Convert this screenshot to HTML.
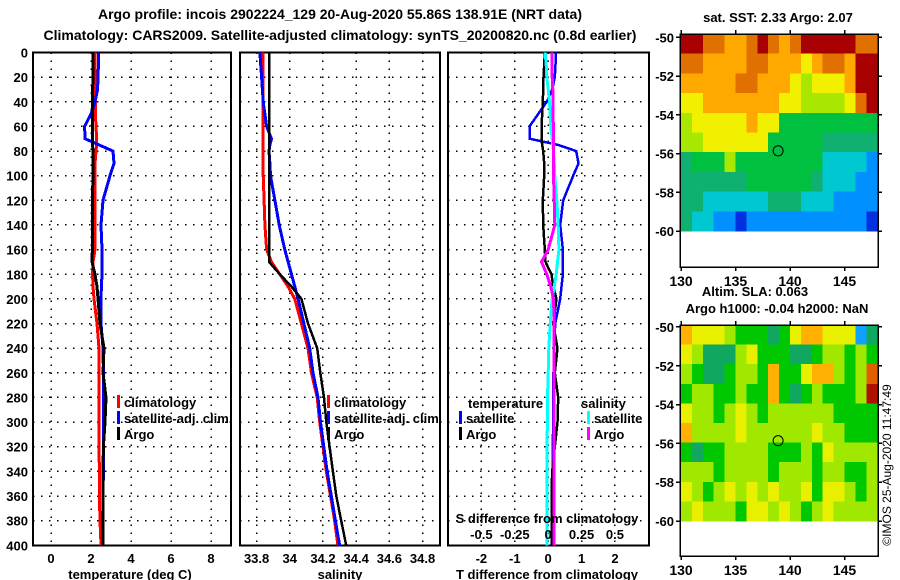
<!DOCTYPE html>
<html><head><meta charset="utf-8">
<style>
html,body{margin:0;padding:0;background:#fff;}
svg{display:block;}
text{font-family:"Liberation Sans",sans-serif;font-weight:bold;font-size:13px;fill:#000;}
text.norm{font-weight:normal;font-size:12px;}
</style></head>
<body>
<svg id="chart" width="900" height="580" viewBox="0 0 900 580" xmlns="http://www.w3.org/2000/svg" shape-rendering="crispEdges">
<text x="340" y="19" text-anchor="middle" style="font-size:14px">Argo profile: incois 2902224_129 20-Aug-2020 55.86S 138.91E (NRT data)</text>
<text x="340" y="40" text-anchor="middle" style="font-size:14px">Climatology: CARS2009. Satellite-adjusted climatology: synTS_20200820.nc (0.8d earlier)</text>
<text x="778" y="22" text-anchor="middle">sat. SST: 2.33 Argo: 2.07</text>
<text x="755" y="296" text-anchor="middle">Altim. SLA: 0.063</text>
<text x="777" y="313" text-anchor="middle">Argo h1000: -0.04 h2000: NaN</text>
<text class="norm" x="0" y="0" transform="translate(891,465) rotate(-90)" text-anchor="middle">©IMOS 25-Aug-2020 11:47:49</text>
<g id="g"></g>
</svg>
<script>
// ---- profile data ----
const depths = [0,10,20,30,40,50,60,70,75,80,90,100,120,140,160,170,180,190,200,220,240,260,280,300,320,340,360,380,400];
const climT = [2.2,2.2,2.2,2.22,2.22,2.22,2.25,2.28,2.28,2.25,2.2,2.2,2.2,2.2,2.2,2.1,2.08,2.1,2.15,2.3,2.4,2.4,2.4,2.4,2.4,2.42,2.42,2.45,2.5];
const satT  = [2.37,2.37,2.35,2.33,2.2,2.0,1.68,1.7,2.4,3.1,3.15,2.95,2.6,2.5,2.55,2.55,2.55,2.52,2.5,2.5,2.6,2.62,2.63,2.63,2.63,2.62,2.6,2.6,2.6];
const argoT = [2.1,2.1,2.1,2.08,2.08,2.07,2.07,2.07,2.08,2.1,2.1,2.1,2.07,2.07,2.07,2.05,2.2,2.3,2.35,2.45,2.65,2.6,2.75,2.7,2.62,2.6,2.6,2.6,2.6];
const climS = [33.84,33.84,33.84,33.84,33.84,33.84,33.84,33.84,33.84,33.84,33.84,33.84,33.845,33.85,33.86,33.89,33.94,33.99,34.03,34.07,34.11,34.13,34.165,34.18,34.2,34.22,34.245,34.27,34.29];
const satS  = [33.82,33.825,33.83,33.835,33.84,33.85,33.86,33.89,33.88,33.875,33.88,33.884,33.91,33.936,33.97,33.99,34.01,34.03,34.05,34.085,34.12,34.14,34.17,34.185,34.205,34.225,34.25,34.275,34.3];
const argoS = [33.875,33.875,33.875,33.875,33.875,33.875,33.875,33.875,33.875,33.875,33.875,33.875,33.875,33.875,33.875,33.875,33.94,34.01,34.07,34.11,34.165,34.184,34.206,34.22,34.24,34.26,34.28,34.31,34.34];
const tDiffSat  = [0.23,0.22,0.2,0.12,-0.04,-0.3,-0.56,-0.56,0.3,0.84,0.91,0.75,0.45,0.36,0.44,0.44,0.44,0.4,0.36,0.21,0.18,0.16,0.15,0.15,0.14,0.14,0.13,0.13,0.12];
const tDiffArgo = [-0.1,-0.12,-0.14,-0.15,-0.16,-0.18,-0.2,-0.2,-0.18,-0.15,-0.12,-0.12,-0.16,-0.15,-0.1,-0.08,0.1,0.15,0.25,0.15,0.28,0.2,0.3,0.28,0.2,0.12,0.1,0.1,0.1];
const sDiffSat  = [-0.022,-0.015,-0.01,0,0.01,0.015,0.02,0.03,0.035,0.04,0.045,0.05,0.065,0.075,0.08,0.07,0.06,0.045,0.03,0.015,0.005,0,-0.005,-0.005,-0.01,-0.01,-0.01,-0.01,-0.01];
const sDiffArgo = [0.03,0.03,0.03,0.035,0.035,0.035,0.04,0.04,0.04,0.04,0.04,0.04,0.045,0.05,0.0,-0.05,-0.01,0.02,0.04,0.045,0.045,0.045,0.045,0.045,0.045,0.045,0.045,0.045,0.045];
const depthTicks = [0,20,40,60,80,100,120,140,160,180,200,220,240,260,280,300,320,340,360,380,400];
const tempTicks = [0,2,4,6,8];
const salTicks = [33.8,34,34.2,34.4,34.6,34.8];
const salTickLabels = ["33.8","34","34.2","34.4","34.6","34.8"];
const tdTicks = [-2,-1,0,1,2];
const sdTicks = [-0.5,-0.25,0,0.25,0.5];
const sdTickLabels = ["-0.5","-0.25","0","0.25","0.5"];
// ---- map data (value classes 0..10) ----
const sstGrid = [
[10,10,9,9,8,8,9,10,9,8,9,10,10,10,10,10,9,9],
[9,9,8,8,8,8,9,9,8,8,8,7,8,9,9,8,10,10],
[8,8,8,8,8,9,9,8,8,8,7,6,7,7,7,8,10,10],
[7,7,8,8,8,8,8,8,8,7,7,6,6,6,6,7,9,10],
[6,7,7,7,7,7,8,7,7,5,5,5,5,5,5,5,5,5],
[6,6,7,7,7,7,7,7,5,5,5,5,5,4,4,4,4,4],
[4,5,5,5,6,5,5,5,5,5,5,5,5,3,3,3,3,2],
[4,4,4,4,4,4,5,5,5,5,5,5,4,3,3,3,2,2],
[4,4,3,3,3,3,3,3,4,4,4,3,3,3,2,2,2,2],
[4,3,3,2,2,1,2,2,2,2,2,2,2,2,2,2,2,1]];
const slaGrid = [
[8,7,7,7,6,5,5,5,4,5,7,8,8,7,7,7,2,4],
[7,6,4,4,4,6,7,5,5,5,4,4,5,6,6,5,6,5],
[6,5,4,4,5,6,6,5,8,5,5,7,8,8,6,5,6,9],
[5,6,6,5,5,6,5,5,8,5,4,5,6,5,5,5,6,10],
[7,6,6,5,6,7,6,5,6,6,6,6,6,6,5,5,5,5],
[8,6,6,6,6,7,6,6,6,6,6,6,7,6,6,5,5,5],
[5,4,5,5,6,6,6,6,5,5,5,6,5,7,6,6,6,6],
[6,6,6,5,6,6,6,6,5,6,6,6,5,6,6,5,5,6],
[7,6,5,6,7,6,7,6,7,6,6,7,5,7,7,6,5,6],
[6,7,6,6,6,5,7,7,6,7,6,5,6,7,6,6,6,6]];
const lonTicks = [130,135,140,145];
const latTicks = [-50,-52,-54,-56,-58,-60];
const argoLon = 138.91, argoLat = -55.86;

const NS = "http://www.w3.org/2000/svg";
const G = document.getElementById('g');
function mk(tag, attrs, parent){const e=document.createElementNS(NS,tag);for(const k in attrs)e.setAttribute(k,attrs[k]);(parent||G).appendChild(e);return e;}
function txt(s,x,y,anchor,parent){const t=mk('text',{x:x,y:y,'text-anchor':anchor||'start'},parent);t.textContent=s;return t;}

const Y0=52.5, Y1=545.3;
function yD(d){return Y0+(d/400)*(Y1-Y0);}

function panel(name,x0,x1,xmin,xmax,ticks,labels,showDepth){
  const grp=mk('g',{});
  
  
  const sx=v=>x0+(v-xmin)/(xmax-xmin)*(x1-x0);
  depthTicks.forEach(d=>{
    if(d>0&&d<400){const l=mk('line',{x1:x0,x2:x1,y1:yD(d),y2:yD(d),stroke:'#000','stroke-width':1.5,'stroke-dasharray':'1.5 6.5'},grp);
      
      }
    if(showDepth){const t=txt(String(d),28,yD(d)+5,'end',grp);
      
      }
  });
  ticks.forEach((v,i)=>{
    const x=sx(v);
    const l=mk('line',{x1:x,x2:x,y1:Y0,y2:Y1,stroke:'#000','stroke-width':1.5,'stroke-dasharray':'1.5 6.5'},grp);
    
    
    const t=txt(labels[i],x,563,'middle',grp);
    
    
  });
  const fr=mk('rect',{x:x0,y:Y0,width:x1-x0,height:Y1-Y0,fill:'none',stroke:'#000','stroke-width':2},grp);
  
  
  return {grp,sx};
}
function line(p,vals,color,w,name){
  const pts=vals.map((v,i)=>p.sx(v).toFixed(1)+','+yD(depths[i]).toFixed(1)).join(' ');
  const l=mk('polyline',{points:pts,fill:'none',stroke:color,'stroke-width':w,'stroke-linejoin':'miter'},p.grp);
  
  
}
function legendItem(grp,x,y,color,label,name){
  const r=mk('rect',{x:x,y:y-10,width:3,height:13,fill:color},grp);
  
  
  const t=txt(label,x+7,y+2,'start',grp);
  
  
}

// Panel 1 temperature
const p1=panel('temperature-panel',33,231,-0.9,9.0,tempTicks,tempTicks.map(String),true);
line(p1,climT,'#ff0000',3,'climatology-temperature-line');
line(p1,satT,'#0000ff',3,'satellite-adj-temperature-line');
line(p1,argoT,'#000000',3,'argo-temperature-line');
legendItem(p1.grp,117,405,'#ff0000','climatology','legend-climatology');
legendItem(p1.grp,117,421,'#0000ff','satellite-adj. clim.','legend-satellite');
legendItem(p1.grp,117,437,'#000000','Argo','legend-argo');
let t=txt('temperature (deg C)',130,579,'middle',p1.grp);



// Panel 2 salinity
const p2=panel('salinity-panel',240,440,33.70,34.905,salTicks,salTickLabels,false);
line(p2,climS,'#ff0000',3,'climatology-salinity-line');
line(p2,satS,'#0000ff',3,'satellite-adj-salinity-line');
line(p2,argoS,'#000000',2.5,'argo-salinity-line');
legendItem(p2.grp,327,405,'#ff0000','climatology','legend-climatology-s');
legendItem(p2.grp,327,421,'#0000ff','satellite-adj. clim.','legend-satellite-s');
legendItem(p2.grp,327,437,'#000000','Argo','legend-argo-s');
t=txt('salinity',340,579,'middle',p2.grp);



// Panel 3 differences
const p3=panel('difference-panel',448,649,-3.0,3.02,tdTicks,tdTicks.map(String),false);
line(p3,tDiffSat,'#0000ff',2.5,'temperature-diff-satellite-line');
line(p3,tDiffArgo,'#000000',2.5,'temperature-diff-argo-line');
const p3s={grp:p3.grp,sx:v=>448+(v+0.75)/(1.505)*(649-448)};
line(p3s,sDiffSat,'#00ffff',3,'salinity-diff-satellite-line');
line(p3s,sDiffArgo,'#ff00ff',3,'salinity-diff-argo-line');
t=txt('temperature',468,408,'start',p3.grp);


t=txt('salinity',581,408,'start',p3.grp);


legendItem(p3.grp,459,421,'#0000ff','satellite','legend-t-satellite');
legendItem(p3.grp,459,437,'#000000','Argo','legend-t-argo');
legendItem(p3.grp,587,421,'#00ffff','satellite','legend-s-satellite');
legendItem(p3.grp,587,437,'#ff00ff','Argo','legend-s-argo');
t=txt('S difference from climatology',547,523,'middle',p3.grp);


sdTicks.forEach((v,i)=>{
  const tt=txt(sdTickLabels[i],p3s.sx(v),539,'middle',p3.grp);
  
  
});
t=txt('T difference from climatology',547,579,'middle',p3.grp);



// Maps
const pal1=['#00008c','#0030e0','#0090ff','#00c8d0','#10b070','#00c040','#a8e800','#f0f000','#ffa800','#e07000','#a80000'];
const pal2=['#00008c','#0050ff','#10a0ff','#00c8c8','#10a860','#00c800','#a0e800','#e8f000','#ffb000','#e06000','#b01000'];
function map(name,grid,pal,top,bottom){
  const grp=mk('g',{});
  
  
  const fx0=680,fx1=878;
  const lx=lon=>681+(lon-130)*10.9;
  const ly=lat=>top.y+(lat-top.lat)/(-60-top.lat)*(top.y60-top.y);
  const rows=grid.length, cols=grid[0].length;
  for(let r=0;r<rows;r++)for(let c=0;c<cols;c++){
    const y0=top.y+r*(top.y60-top.y)/rows, y1=top.y+(r+1)*(top.y60-top.y)/rows;
    const x0=lx(130+c), x1=lx(131+c);
    const cell=mk('rect',{x:x0.toFixed(2),y:y0.toFixed(2),width:(x1-x0+0.6).toFixed(2),height:(y1-y0+0.6).toFixed(2),fill:pal[grid[r][c]]},grp);
    
    
  }
  const fr=mk('rect',{x:fx0,y:top.y,width:fx1-fx0,height:bottom-top.y,fill:'none',stroke:'#000','stroke-width':1.5},grp);
  
  
  latTicks.forEach(lat=>{
    const y=ly(lat);
    mk('line',{x1:fx0-4,x2:fx0,y1:y,y2:y,stroke:'#000','stroke-width':1.5},grp);
    mk('line',{x1:fx1,x2:fx1+4,y1:y,y2:y,stroke:'#000','stroke-width':1.5},grp);
    const tt=txt(String(lat),674,y+5,'end',grp);
    
    
  });
  lonTicks.forEach(lon=>{
    const x=lx(lon);
    mk('line',{x1:x,x2:x,y1:top.y-4,y2:top.y,stroke:'#000','stroke-width':1.5},grp);
    mk('line',{x1:x,x2:x,y1:bottom,y2:bottom+4,stroke:'#000','stroke-width':1.5},grp);
    const tt=txt(String(lon),x,bottom+19,'middle',grp);
    tt.setAttribute('style','font-size:14px');
    
    
  });
  const m=mk('circle',{cx:lx(argoLon),cy:ly(argoLat),r:5,fill:'none',stroke:'#000','stroke-width':1,'shape-rendering':'auto'},grp);
  
  
}
map('sst-map',sstGrid,pal1,{y:34,lat:-49.83,y60:231},267);
map('sla-map',slaGrid,pal2,{y:325,lat:-49.9,y60:521},556);
</script>
</body></html>
